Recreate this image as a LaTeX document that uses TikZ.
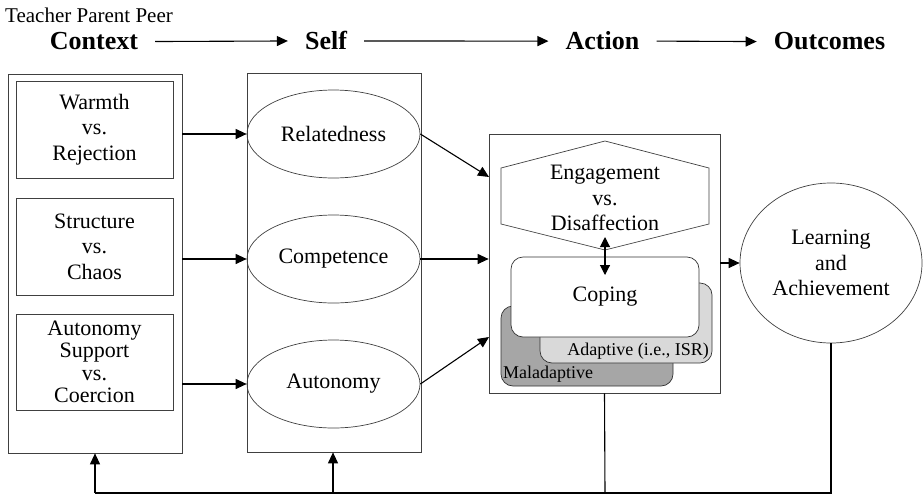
\documentclass[tikz,border=0pt]{standalone}
\usepackage{fontspec}
\setmainfont{Liberation Serif}
\usetikzlibrary{shapes.geometric,arrows.meta,calc}
\tikzset{
  arr/.style={line width=1.1pt,-{Triangle[length=11pt,width=10pt]}},
  darr/.style={line width=1.1pt,{Triangle[length=10pt,width=10pt]}-{Triangle[length=10pt,width=10pt]}},
  fb/.style={line width=1.1pt},
  boxline/.style={draw=black!75,line width=0.7pt},
  body/.style={font=\fontsize{22}{25.5}\selectfont,align=center},
  tight/.style={font=\fontsize{22}{22.5}\selectfont},
  small/.style={font=\fontsize{18}{20}\selectfont},
  head/.style={font=\fontsize{26}{30}\selectfont\bfseries,inner xsep=17pt,inner ysep=0pt},
  outerbox/.style={boxline,rectangle,inner sep=0pt},
  innerbox/.style={boxline,rectangle,inner sep=0pt,minimum width=157pt,body},
  selfell/.style={boxline,ellipse,inner sep=0pt,minimum width=173pt,minimum height=88pt,body},
  copebox/.style={draw=black!80,line width=0.7pt,rounded corners=12pt,inner sep=0pt,minimum width=172pt,minimum height=80pt},
}
\begin{document}
\begin{tikzpicture}[x=1pt,y=-1pt]
\useasboundingbox (0,0) rectangle (923,496);
% header
\node[anchor=base west,inner sep=0pt,font=\fontsize{21}{24}\selectfont] (tpp) at (5,22) {Teacher Parent Peer};
\node[head,anchor=base] (hctx) at (94,49) {Context};
\node[head,anchor=base] (hself) at (326,49) {Self};
\node[head,anchor=base] (hact) at (602.5,49) {Action};
\node[head,anchor=base] (hout) at (829.5,49) {Outcomes};
\draw[arr] ($(hctx.east)+(0,1)$) -- ($(hself.west)+(0,1)$);
\draw[arr] ($(hself.east)+(0,1)$) -- ($(hact.west)+(0,1)$);
\draw[arr] ($(hact.east)+(0,1)$) -- ($(hout.west)+(0,1)$);
% context column
\node[outerbox,minimum width=174pt,minimum height=379pt] (ctxbox) at (95,263.5) {};
\node[innerbox,minimum height=97pt] (warm) at (94.5,129.5) {Warmth\\vs.\\Rejection};
\node[innerbox,minimum height=97pt] (struc) at (94.5,246.5) {Structure\\vs.\\Chaos};
\node[innerbox,tight,minimum height=96pt] (auts) at (94.5,362) {Autonomy\\Support\\vs.\\Coercion};
% self column
\node[outerbox,minimum width=174pt,minimum height=379pt] (selfbox) at (334,262.5) {};
\node[selfell] (rel) at (333.5,134) {Relatedness};
\node[selfell] (comp) at (333.5,259) {Competence};
\node[selfell] (aut) at (333.5,384) {Autonomy};
\draw[arr] (ctxbox.east |- rel.west) -- (rel.west);
\draw[arr] (ctxbox.east |- comp.west) -- (comp.west);
\draw[arr] (ctxbox.east |- aut.west) -- (aut.west);
% action column
\node[outerbox,minimum width=231pt,minimum height=259pt] (actbox) at (604.5,263.5) {};
\draw[boxline,fill=white] (605,141) -- (709,168) -- (709,224) -- (605,250) -- (501,224) -- (501,168) -- cycle;
\node[body,inner sep=0pt] (eng) at (605,198) {Engagement\\vs.\\Disaffection};
\node[copebox,fill=black!35] (mal) at (587,346) {};
\node[copebox,fill=black!15] (adp) at (626,323) {};
\node[copebox,fill=white,minimum width=188pt] (cope) at (605,297) {};
\node[body,inner sep=0pt] (copetxt) at (605,297) {Coping};
\node[small,anchor=base east,inner sep=0pt] (adptxt) at (709,355) {Adaptive (i.e., ISR)};
\node[small,anchor=base west,inner sep=0pt] (maltxt) at (503,378) {Maladaptive};
\coordinate (ea) at (605,237);
\coordinate (eb) at (605,275);
\draw[darr] (ea) -- (eb);
\coordinate (a1) at (489,177);
\coordinate (a3) at (489,337);
\draw[arr] (rel.east) -- (a1);
\draw[arr] (comp.east) -- (actbox.west |- comp.east);
\draw[arr] (aut.east) -- (a3);
% outcomes
\node[boxline,ellipse,inner sep=0pt,minimum width=182pt,minimum height=160pt,body] (learn) at (831,263) {Learning\\and\\Achievement};
\draw[arr] (actbox.east |- learn.west) -- (learn.west);
% feedback
\coordinate (fbr) at (831,493);
\coordinate (fbl) at (95,493);
\coordinate (fbm) at (333,493);
\coordinate (fba) at (605,493);
\draw[fb] (learn.south) -- (fbr) -- (fbl);
\draw[arr] (fbl) -- (ctxbox.south);
\draw[arr] (fbm) -- (fbm |- selfbox.south);
\draw[fb] (actbox.south) -- (fba);
\end{tikzpicture}
\end{document}
